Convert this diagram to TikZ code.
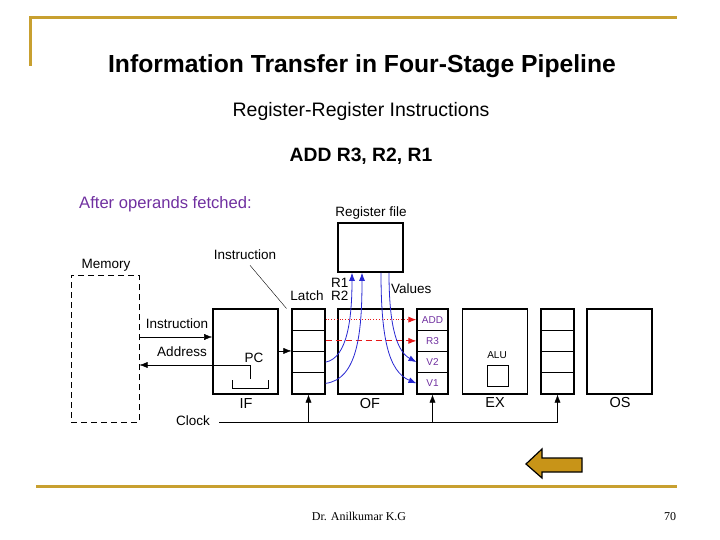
\documentclass[tikz,border=0pt]{standalone}
\usepackage{fontspec}
\setmainfont{Liberation Sans}
\newfontfamily\footfont{Liberation Serif}
\usetikzlibrary{arrows.meta, calc}
\definecolor{gold}{RGB}{200,160,48}
\definecolor{arrowgold}{RGB}{200,148,24}
\definecolor{plum}{RGB}{112,48,160}
\definecolor{wireblue}{RGB}{40,40,210}
\definecolor{wirered}{RGB}{230,25,25}
\tikzset{
  stagebox/.style={draw, line width=1.6pt, minimum width=65pt, minimum height=85pt, inner sep=0pt},
  latchcell/.style={draw, line width=1.1pt, minimum width=33pt, minimum height=21.25pt, inner sep=0pt,
    font=\fontsize{10}{10}\selectfont, text=plum},
  lbl/.style={font=\fontsize{13.5}{13.5}\selectfont, inner sep=0pt, anchor=base},
  tip/.style={-{Latex[length=8pt,width=6pt]}},
}

\begin{document}
\begin{tikzpicture}[x=1pt, y=-1pt]
    \useasboundingbox (0,0) rectangle (720,540);

    % Draw the slide frame
    \draw[gold, line width=3pt] (30,66) -- (30,18) -- (677,18);
    \draw[gold, line width=3pt] (36,486) -- (677,486);

    % Titles
    \node[inner sep=0pt, anchor=base, font=\bfseries\fontsize{24.7}{24.7}\selectfont] (title) at (362,73) {Information Transfer in Four-Stage Pipeline};
    \node[inner sep=0pt, anchor=base, font=\fontsize{19.5}{19.5}\selectfont] (subtitle) at (361,117) {Register-Register Instructions};
    \node[inner sep=0pt, anchor=base, font=\bfseries\fontsize{19.3}{19.3}\selectfont] (addinstr) at (361,162) {ADD R3, R2, R1};
    \node[inner sep=0pt, anchor=base west, font=\fontsize{16.6}{16.6}\selectfont, text=plum] (after) at (79,209) {After operands fetched:};

    % Memory and the stages
    \node[draw, dash pattern=on 6pt off 4pt, line width=1pt, minimum width=68pt, minimum height=147pt] (mem) at (105,348.5) {};
    \node[stagebox] (if) at (245.5,351.5) {};
    \node[stagebox] (of) at (370.5,351.5) {};
    \node[stagebox] (ex) at (495,351.5) {};
    \node[stagebox] (os) at (619.5,351.5) {};
    \node[stagebox, minimum height=49pt] (rf) at (370.5,247.5) {};
    \node[draw, line width=1pt, minimum size=21pt, inner sep=0pt] (alu) at (497.5,375.5) {};

    % Latches
    \foreach \n/\x in {la/308.5, lc/557.5} {
        \foreach \r in {1,...,4}
            \node[latchcell] (\n\r) at (\x, 298.375+21.25*\r) {};
    }
    \foreach \r/\t in {1/ADD, 2/R3, 3/V2, 4/V1}
        \node[latchcell, minimum width=31pt] (lb\r) at (432.5, 298.375+21.25*\r) {\t};

    % Labels
    \node[lbl] (memlbl) at (106,268) {Memory};
    \node[lbl] (rflbl) at (371,217) {Register file};
    \node[lbl] (instrlbl) at (245,259) {Instruction};
    \node[lbl] (latchlbl) at (307,300) {Latch};
    \node[lbl, anchor=base west] (rlbl) at (331,287) {R1};
    \node[lbl, anchor=base west] (rtwolbl) at (331,300) {R2};
    \node[lbl, anchor=base west] (vallbl) at (391,293) {Values};
    \node[lbl] (meminstr) at (177,328) {Instruction};
    \node[lbl] (addrlbl) at (182,356) {Address};
    \node[lbl] (pclbl) at (254,362) {PC};
    \node[lbl] (clklbl) at (193,425) {Clock};
    \node[lbl, font=\fontsize{10}{10}\selectfont] (alulbl) at (497,358) {ALU};
    \node[lbl, font=\fontsize{14.5}{14.5}\selectfont] (iflbl) at (246,408) {IF};
    \node[lbl, font=\fontsize{14.5}{14.5}\selectfont] (oflbl) at (370,408) {OF};
    \node[lbl, font=\fontsize{14.5}{14.5}\selectfont] (exlbl) at (495,407) {EX};
    \node[lbl, font=\fontsize{14.5}{14.5}\selectfont] (oslbl) at (620,407) {OS};

    % Memory side
    \draw[tip] ([yshift=11.5pt]mem.east) -- ([yshift=11.5pt]mem.east -| if.west);
    \coordinate (pcpt) at (250,365);
    \draw[tip] (pcpt) -- (pcpt -| mem.east);
    \draw (pcpt) -- ++(0,14);
    \draw (232,380) -- (232,388) -- (268,388) -- (268,380);
    \draw (instrlbl.south) ++(5,6) -- ([xshift=-5pt]la1.north west);
    \draw[tip] (if.east |- la3.north) -- (la3.north west);

    % Op code and destination
    \draw[wirered, dotted, thick, tip] (la1.east) -- (lb1.west);
    \draw[wirered, dash pattern=on 6pt off 4pt, thick, tip] (la2.east) -- (lb2.west);

    % Source registers and values
    \draw[wireblue, thick, tip] (la3.east) .. controls +(22,-4) and +(0,45) .. ([xshift=-18.5pt]rf.south);
    \draw[wireblue, thick, tip] (la4.east) .. controls +(32,-4) and +(0,60) .. ([xshift=-8.5pt]rf.south);
    \draw[wireblue, thick, tip] ([xshift=10.5pt]rf.south) .. controls +(0,65) and +(-28,-12) .. (lb4.west);
    \draw[wireblue, thick, tip] ([xshift=18.5pt]rf.south) .. controls +(0,45) and +(-22,-12) .. (lb3.west);

    % Clock
    \coordinate (clk) at (219,422);
    \draw (clk) -- (lc4.south |- clk);
    \foreach \n in {la4, lb4, lc4}
        \draw[tip] (\n.south |- clk) -- (\n.south);

    % Back arrow
    \draw[fill=arrowgold, line width=1.2pt] (582,458) -- (542,458) -- (542,449) -- (526,464) -- (542,478) -- (542,472) -- (582,472) -- cycle;

    % Footer
    \node[inner sep=0pt, anchor=base, font=\footfont\fontsize{12}{12}\selectfont] (author) at (359,520) {Dr. Anilkumar K.G};
    \node[inner sep=0pt, anchor=base, font=\footfont\fontsize{12}{12}\selectfont] (pageno) at (670,520) {70};
\end{tikzpicture}
\end{document}
